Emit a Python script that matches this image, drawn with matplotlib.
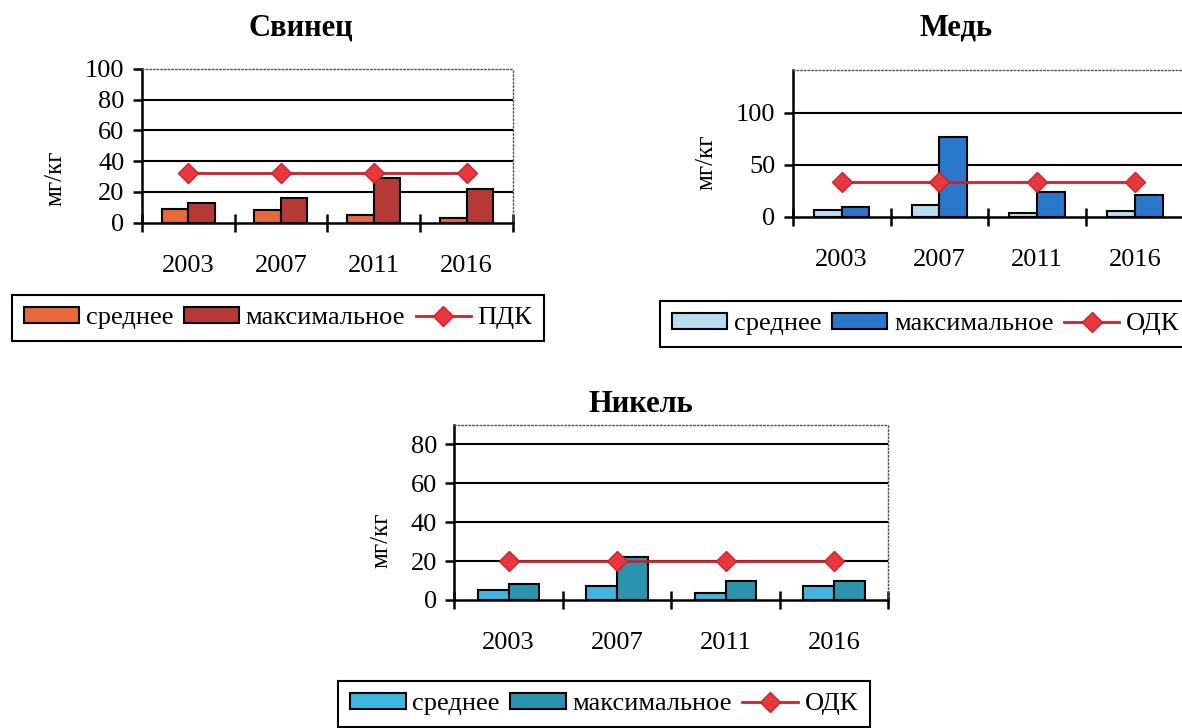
import numpy as np
import matplotlib.pyplot as plt

plt.rcParams['font.family'] = ['Liberation Serif', 'DejaVu Serif']

years = ['2003', '2007', '2011', '2016']

pb_mean = [9, 8, 5, 3]
pb_max = [13, 16, 29, 22]
pb_limit = [32, 32, 32, 32]

cu_mean = [6, 11, 4, 5]
cu_max = [9.5, 77, 24, 21]
cu_limit = [33, 33, 33, 33]

ni_mean = [5, 7, 3.5, 7]
ni_max = [8, 22, 10, 10]
ni_limit = [20, 20, 20, 20]

W, H = 1182, 728
fig = plt.figure(figsize=(W / 100, H / 100), dpi=100)


def px_rect(x0, x1, ytop, ybot):
    return [x0 / W, 1 - ybot / H, (x1 - x0) / W, (ybot - ytop) / H]


def chart(rect, mean, mx, limit, ytop, yticks, c_mean, c_max, lim_name,
          title, title_xy, leg_xy, leg_loc, ylab_y):
    ax = fig.add_axes(rect)
    x = np.arange(len(years))
    w = 0.285
    b1 = ax.bar(x - w / 2, mean, w, color=c_mean, edgecolor='black', linewidth=1.5,
                label='среднее', zorder=3)
    b2 = ax.bar(x + w / 2, mx, w, color=c_max, edgecolor='black', linewidth=1.5,
                label='максимальное', zorder=3)
    ln, = ax.plot(x, limit, color='#d01f2c', lw=2, marker='D', ms=10,
                  mfc='#e8383d', mec='#d01f2c', label=lim_name, zorder=4)

    for t in yticks[1:]:
        if t < ytop:
            ax.axhline(t, color='black', lw=1.5, zorder=1)

    ax.set_xlim(-0.5, 3.5)
    ax.set_ylim(0, ytop)
    ax.set_yticks(yticks)

    ax.set_xticks(np.arange(-0.5, 4, 1))
    ax.set_xticklabels([])
    ax.set_xticks(x, minor=True)
    ax.set_xticklabels(years, minor=True)
    ax.tick_params(axis='x', which='major', direction='inout', length=13, width=1.8)
    ax.tick_params(axis='x', which='minor', length=0, pad=23, labelsize=19)
    ax.tick_params(axis='y', direction='out', length=6.5, width=1.8,
                   labelsize=19, pad=6)

    for s in ['left', 'bottom']:
        ax.spines[s].set_linewidth(1.8)
    for s in ['top', 'right']:
        ax.spines[s].set_linestyle(':')
        ax.spines[s].set_color('#555555')
        ax.spines[s].set_linewidth(1)

    ax.set_ylabel('мг/кг', fontsize=18, labelpad=13)
    ax.yaxis.label.set_y(ylab_y)

    fig.text(title_xy[0] / W, 1 - title_xy[1] / H, title, ha='center', va='center',
             fontsize=22, fontweight='bold')

    leg = ax.legend([b1, b2, ln], ['среднее', 'максимальное', lim_name],
                    loc=leg_loc, bbox_to_anchor=(leg_xy[0] / W, 1 - leg_xy[1] / H),
                    bbox_transform=fig.transFigure, ncol=3, fancybox=False,
                    edgecolor='black', fontsize=19, handlelength=2.1,
                    handleheight=0.6, handletextpad=0.25, columnspacing=0.4,
                    borderpad=0.45, borderaxespad=0, framealpha=1)
    leg.get_frame().set_linewidth(1.5)
    return ax


chart(px_rect(141.7, 513, 68.7, 222.7), pb_mean, pb_max, pb_limit, 100,
      [0, 20, 40, 60, 80, 100], '#e8693c', '#b53a35', 'ПДК',
      'Свинец', (301, 28), (278, 318), 'center', 0.29)

chart(px_rect(792.7, 1184, 70, 216.7), cu_mean, cu_max, cu_limit, 141,
      [0, 50, 100], '#b8dcf0', '#2a78cc', 'ОДК',
      'Медь', (956, 28), (660, 324), 'center left', 0.37)

chart(px_rect(454.3, 888.3, 425, 600), ni_mean, ni_max, ni_limit, 90,
      [0, 20, 40, 60, 80], '#3fb6e0', '#2a93ad', 'ОДК',
      'Никель', (641, 405), (604, 704), 'center', 0.34)

fig.savefig('out.png', dpi=100)
